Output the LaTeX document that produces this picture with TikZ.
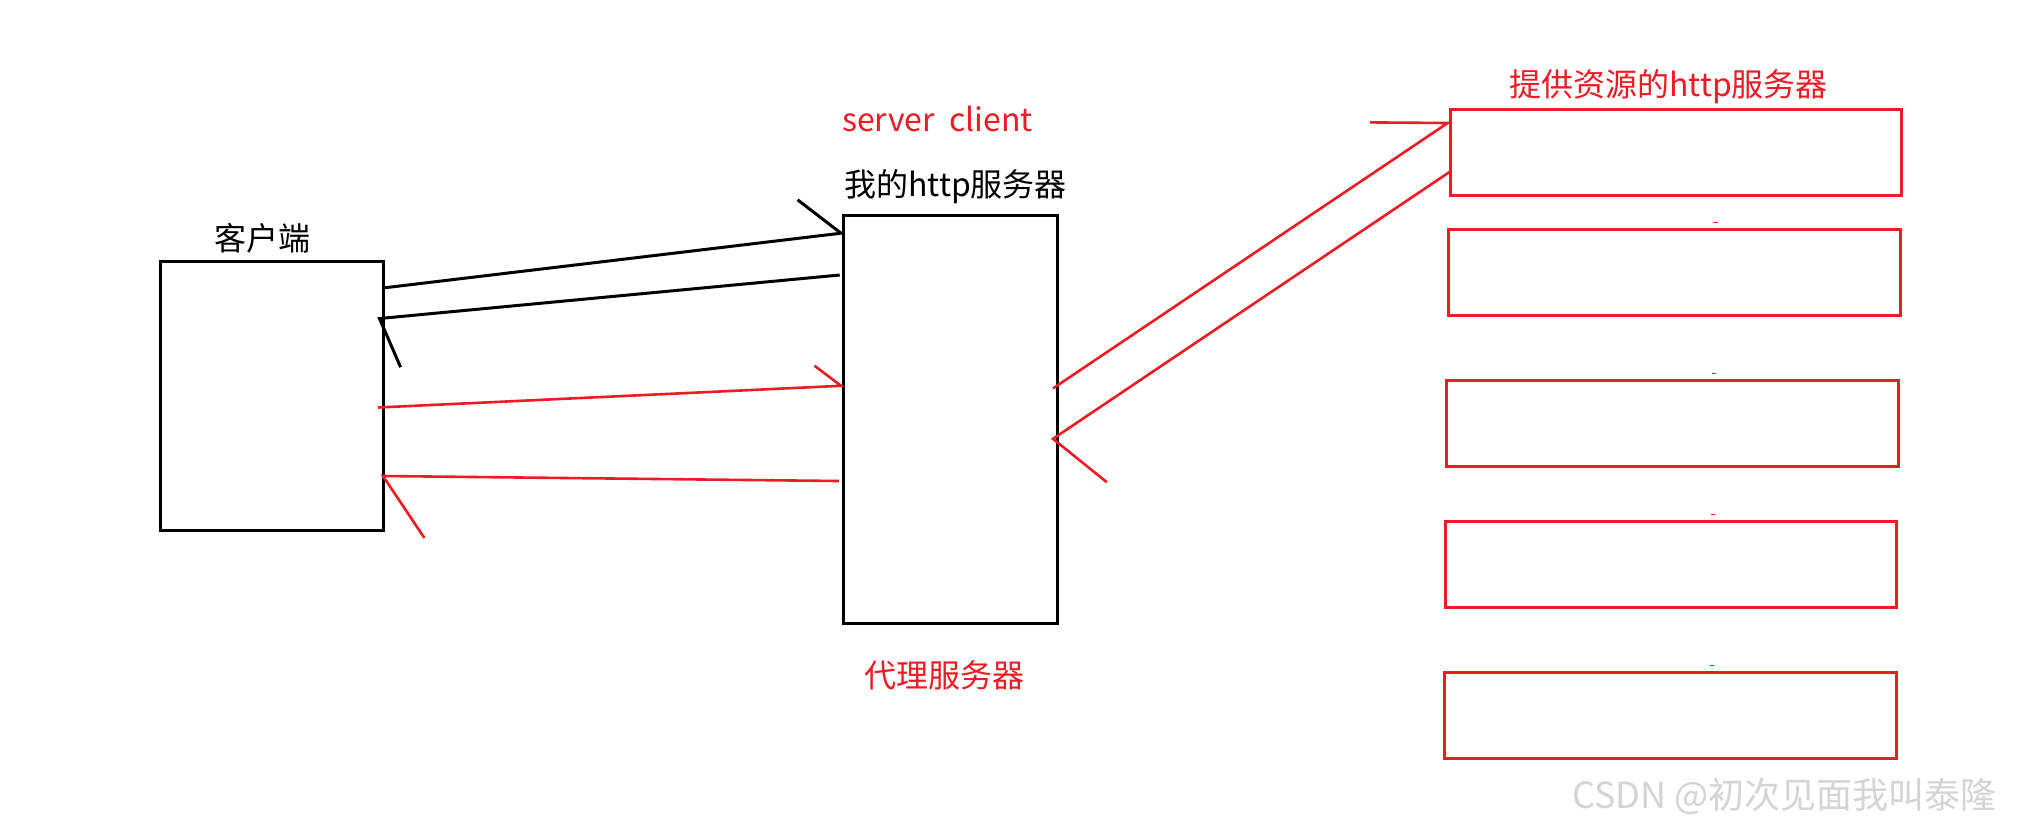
\documentclass[tikz,border=0pt]{standalone}
\usepackage{fontspec}
\setmainfont{Noto Sans CJK SC}
\definecolor{pred}{HTML}{ED1C24}
\definecolor{wm}{HTML}{D4D4D4}
\begin{document}
\begin{tikzpicture}[x=1pt,y=-1pt,
  bbox/.style={draw=black,line width=3pt,inner sep=0pt,anchor=north west},
  rbox/.style={draw=pred,line width=3pt,inner sep=0pt,anchor=north west},
  bline/.style={draw=black,line width=3pt},
  rline/.style={draw=pred,line width=2.6pt},
  lbl/.style={inner sep=0pt,anchor=base west,font=\fontsize{32}{36}\selectfont}]
\useasboundingbox (0,0) rectangle (2040,831);
\fill[white] (0,0) rectangle (2040,831);
% boxes
\node[bbox,minimum width=223pt,minimum height=269pt] (client) at (158.5,260.2) {};
\node[bbox,minimum width=214pt,minimum height=408pt] (proxy) at (841.5,213.7) {};
\node[rbox,minimum width=451pt,minimum height=86pt] (s1) at (1449,107.6) {};
\node[rbox,minimum width=452pt,minimum height=86pt] (s2) at (1447,228.4) {};
\node[rbox,minimum width=452pt,minimum height=86pt] (s3) at (1445,379.4) {};
\node[rbox,minimum width=451pt,minimum height=86pt] (s4) at (1444.4,520.4) {};
\node[rbox,minimum width=452pt,minimum height=85.5pt] (s5) at (1443,671.4) {};
% labels
\node[lbl] (lclient) at (214,250) {客户端};
\node[lbl,text=pred] (lsc) at (842,131) {server\ \ client};
\node[lbl] (lmy) at (844,196) {我的http服务器};
\node[lbl,text=pred] (lproxy) at (864,687) {代理服务器};
\node[lbl,text=pred] (lres) at (1509,96) {提供资源的http服务器};
\node[inner sep=0pt,anchor=base west,text=wm,font=\fontsize{36}{40}\selectfont] (wmark) at (1572,808) {CSDN @初次见面我叫泰隆};
% connector coordinates
\coordinate (a1s) at (384.4,287.8); \coordinate (a1t) at (841,233.2); \coordinate (a1b) at (797.6,199.8);
\coordinate (a2s) at (839.7,275); \coordinate (a2t) at (379.5,318.5); \coordinate (a2b) at (400.6,367.2);
\coordinate (a3s) at (378,407.5); \coordinate (a3t) at (841,385.8); \coordinate (a3b) at (814.5,365.7);
\coordinate (a4s) at (839,481); \coordinate (a4t) at (383,476); \coordinate (a4b) at (424.4,538);
\coordinate (a5s) at (1053,388.4); \coordinate (a5t) at (1447.7,123); \coordinate (a5b) at (1370,122.4);
\coordinate (a6s) at (1451,171); \coordinate (a6t) at (1053,438.8); \coordinate (a6b) at (1106.8,482.2);
% black arrows
\draw[bline] (a1s) -- (a1t) -- (a1b);
\draw[bline] (a2s) -- (a2t) -- (a2b);
% red arrows
\draw[rline] (a3s) -- (a3t) -- (a3b);
\draw[rline] (a4s) -- (a4t) -- (a4b);
\draw[rline] (a5s) -- (a5t) -- (a5b);
\draw[rline] (a6s) -- (a6t) -- (a6b);
% tiny marks
\draw[pred,line width=1pt] (1713,222.6) -- (1718,222.6);
\draw[pred,line width=1pt] (1712,373.6) -- (1716,373.6);
\draw[pred,line width=1pt] (1711,514) -- (1715,514);
\draw[pred,line width=1pt] (1710,665) -- (1714,665);
\end{tikzpicture}
\end{document}
